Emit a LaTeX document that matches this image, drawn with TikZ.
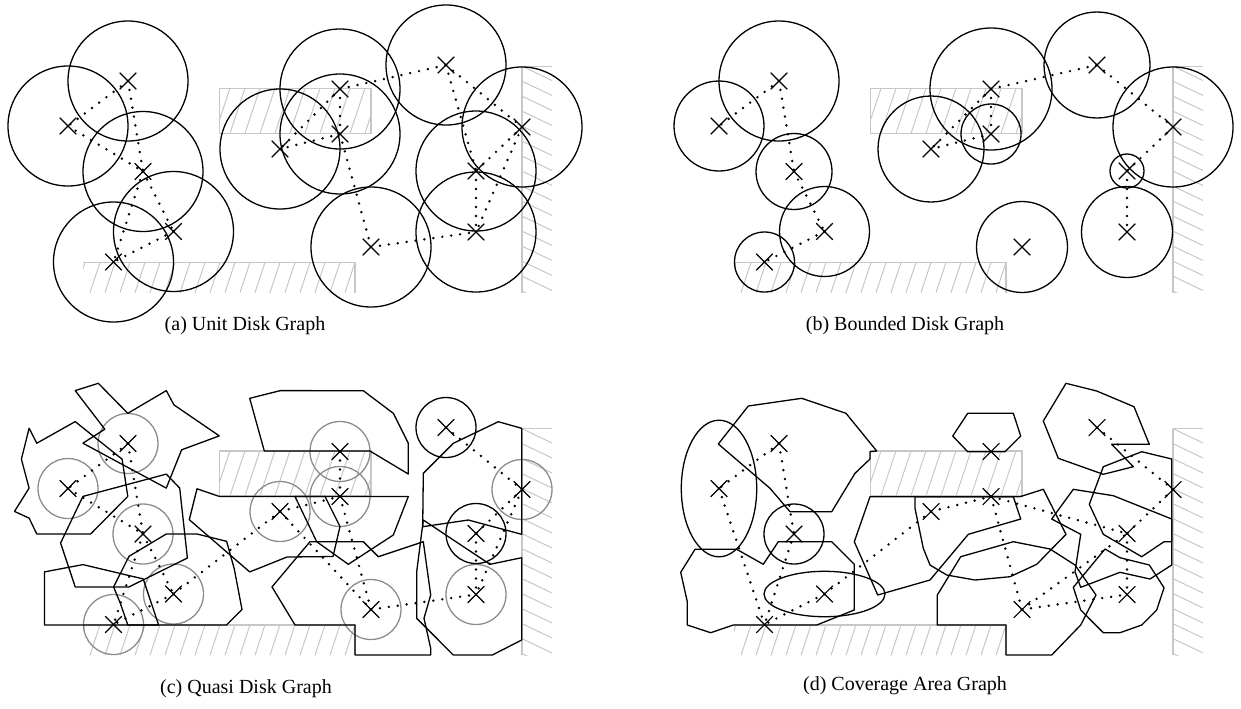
\documentclass[tikz,border=0pt]{standalone}
\usepackage{fontspec}
\setmainfont{Liberation Serif}
\usetikzlibrary{shapes.misc}

\begin{document}
\begin{tikzpicture}
  [
  x=0.5pt, y=-0.5pt, font=\normalsize,
  sensor/.style={cross out, draw=black, line width=0.55pt, minimum size=7.8pt, inner sep=0pt},
  link/.style={line width=1.35pt, line cap=round, dash pattern=on 0pt off 4.5pt},
  disk/.style={draw=black, line width=0.65pt},
  inner/.style={draw=black!45, line width=0.65pt},
  area/.style={draw=black, line width=0.65pt, line join=round},
  wall/.style={draw=black!22, line width=0.8pt},
  hatch/.style={draw=black!22, line width=0.5pt},
  caption/.style={inner sep=0pt}
  ]
\useasboundingbox (0,0) rectangle (1241,708);

% obstacles, the same in all four panels
\foreach \dx/\dy in {0/0,651/0,0/362.5,651/362.5} {
  \begin{scope}[shift={(\dx,\dy)}]
    \begin{scope}
      \clip (219.3,88.3) rectangle (370.7,133.3);
      \foreach \h in {200,215,...,380} \draw[hatch] (\h,133.3) -- ++(15,-45);
    \end{scope}
    \draw[wall] (219.3,88.3) rectangle (370.7,133.3);
    \begin{scope}
      \clip (83,262.3) rectangle (355,292.7);
      \foreach \h in {75,90,...,360} \draw[hatch] (\h,292.7) -- ++(10,-30.4);
    \end{scope}
    \draw[wall] (83,262.3) -- (355,262.3) -- (355,292.7);
    \begin{scope}
      \clip (521.7,66) rectangle (552,292.7);
      \foreach \v in {66,81,...,300} \draw[hatch] (521.7,\v) -- ++(30.3,14.5);
    \end{scope}
    \draw[hatch] (521.7,66) -- (552,66);
    \draw[wall] (521.7,66) -- (521.7,292.7);
  \end{scope}
}

% sensors, same positions in all panels
\foreach \p/\dx/\dy in {a/0/0,b/651/0,c/0/362.5,d/651/362.5} {
  \foreach \i/\px/\py in {1/128/81,2/68/126,3/143/171.5,4/173.5/231.5,5/113.5/262,6/340/89,7/340/134,8/280/149,9/371/247,10/446/65,11/522/127,12/476/171,13/476/232} {
    \node[sensor] (\p\i) at (\dx+\px,\py+\dy) {};
  }
}

% (a) unit disks
\foreach \i in {1,...,13} \draw[disk] (a\i.center) circle[radius=60];
\foreach \s/\t in {1/2,1/3,2/3,3/4,3/5,4/5,6/7,6/8,7/8,6/10,7/9,9/13,10/11,10/12,11/12,11/13,12/13}
  \draw[link] (a\s.center) -- (a\t.center);

% (b) bounded disks
\foreach \i/\r in {1/60,2/45,3/38,4/45,5/30,6/61,7/30,8/53,9/45.5,10/53,11/60,12/17,13/45.5}
  \draw[disk] (b\i.center) circle[radius=\r];
\foreach \s/\t in {1/2,1/3,3/4,4/5,6/7,6/8,7/8,6/10,10/11,11/12,12/13}
  \draw[link] (b\s.center) -- (b\t.center);

% (c) quasi disks
\foreach \i in {1,...,9,11,13} \draw[inner] (c\i.center) circle[radius=30];
\foreach \i in {10,12} \draw[disk] (c\i.center) circle[radius=30];
\begin{scope}[shift={(0,362.5)}]
\draw[area] (75.2,28.1) -- (98.3,20.8) -- (127.8,50.8) -- (166.3,28.1) -- (174,42.4) -- (219.3,73.4) -- (181.6,87.3) -- (166.3,125.6) -- (82.9,80.7) -- (104.8,66.7) -- cycle;
\draw[area] (29.1,65.7) -- (36.8,80.7) -- (75.2,59.1) -- (122.1,96.7) -- (127.8,133.9) -- (90.6,171.5) -- (36.8,171.5) -- (29.1,155.6) -- (14.5,148.9) -- (29.1,125.6) -- (21.4,96.7) -- cycle;
\draw[area] (82.9,133.9) -- (166.3,111.6) -- (179.7,125.6) -- (187.4,195.5) -- (129,224.4) -- (75.2,224.4) -- (60.6,180.5) -- cycle;
\draw[area] (113.6,224.4) -- (129,193.8) -- (166.3,171.5) -- (197,171.5) -- (226.6,178.8) -- (234.3,206.5) -- (242,247) -- (226.6,262.4) -- (127.8,262.4) -- (120.2,240.4) -- cycle;
\draw[area] (44.4,209.4) -- (82.9,202.1) -- (143.2,216.4) -- (158.6,262.4) -- (44.4,262.4) -- cycle;
\draw[area] (249.7,35.8) -- (280.4,28.1) -- (363.3,28.2) -- (393.3,50.8) -- (408.3,80.8) -- (408.3,111.5) -- (370,88.5) -- (264.3,88.5) -- cycle;
\draw[area] (295,134) -- (408.3,134) -- (393.3,172.5) -- (348.3,201.8) -- (316.7,179.2) -- cycle;
\draw[area] (197,126.3) -- (219.3,133.9) -- (325,134) -- (340,164) -- (333,194) -- (287,194.5) -- (249.7,209.4) -- (189.3,157.2) -- cycle;
\draw[area] (310,179.2) -- (363.3,179.2) -- (378.3,194.2) -- (423.3,179.2) -- (430.7,232.5) -- (424,255.8) -- (430.7,285.8) -- (430.7,292.5) -- (355,292.5) -- (355,262.4) -- (295,262.4) -- (272,224.4) -- cycle;
\draw[area] (423.3,110.8) -- (453.3,80.8) -- (498.3,59.2) -- (521.7,65.8) -- (521.7,171.8) -- (468.3,157.5) -- (422.7,164.2) -- cycle;
\draw[area] (423.3,157.5) -- (490,201.8) -- (521.7,195.2) -- (521.7,277.5) -- (492.3,292.5) -- (453.3,292.5) -- (416.7,255.8) -- (416.7,209.2) -- cycle;
\end{scope}
\foreach \s/\t in {1/2,1/3,2/3,3/4,3/5,4/5,4/8,8/7,8/9,6/7,7/9,9/13,10/11,11/12,11/13,12/13}
  \draw[link] (c\s.center) -- (c\t.center);

% (d) coverage areas
\draw[disk] (d2.center) ellipse[x radius=37.7, y radius=68.3];
\draw[disk] (d3.center) circle[radius=30];
\draw[disk] (d4.center) ellipse[x radius=60.5, y radius=22.7];
\begin{scope}[shift={(651,362.5)}]
\draw[area] (67.3,81.5) -- (97.3,43.5) -- (150.7,35.8) -- (195,50.8) -- (225.7,88.5) -- (219,89.2) -- (219,96.5) -- (204,110.8) -- (180.7,149.2) -- (139,149.2) -- (119,125.8) -- cycle;
\draw[area] (29.7,209.8) -- (44,186.8) -- (85.7,186.8) -- (112.3,201.8) -- (127.3,179.2) -- (180.7,179.2) -- (203.3,201.8) -- (203.3,247.5) -- (165.7,262.5) -- (82.3,262.5) -- (59.7,270.2) -- (36.3,262.5) -- (36.3,239.2) -- cycle;
\draw[area] (301.7,73.5) -- (316.7,50.8) -- (362.3,50.8) -- (369.7,73.5) -- (354,89.2) -- (316.7,89.2) -- cycle;
\draw[area] (264,134.2) -- (264,145.8) -- (272.3,185.8) -- (279,202.5) -- (295.7,212.5) -- (324,217.5) -- (359,214.2) -- (385.7,201.8) -- (415,171.8) -- (392.3,126.8) -- (369,134.2) -- cycle;
\draw[area] (219,134.2) -- (362.3,134.2) -- (369.7,156.5) -- (317.3,171.8) -- (279,217.5) -- (226.7,232.5) -- (203.3,179.2) -- cycle;
\draw[area] (286.3,232.5) -- (309.7,194.2) -- (362.3,179.2) -- (399,186.5) -- (424,202.5) -- (445,232.5) -- (429.7,262.5) -- (400.7,292.5) -- (355,292.5) -- (355,262.5) -- (286.3,262.5) -- cycle;
\draw[area] (415,20.8) -- (445.7,28.5) -- (483,44.2) -- (498.3,81.8) -- (460.7,81.8) -- (482.3,104.2) -- (452.3,111.8) -- (407.3,95.8) -- (392.3,58.5) -- cycle;
\draw[area] (452.3,104.2) -- (490.7,89.2) -- (520.7,96.5) -- (520.7,179.2) -- (513,179.2) -- (490.7,194.2) -- (452.3,171.8) -- (438.3,141.8) -- cycle;
\draw[area] (422.3,126.8) -- (462.3,133.2) -- (520.7,156.5) -- (520.7,202.5) -- (499,216.5) -- (469,209.8) -- (429.7,224.8) -- (424,209.2) -- (429.7,171.8) -- (400.7,156.5) -- cycle;
\draw[area] (422.3,224.8) -- (454,186.5) -- (469,195.2) -- (498.3,202.5) -- (513,225.2) -- (505.7,247.5) -- (490.7,262.5) -- (469,270.2) -- (452.3,270.2) -- (429.7,247.5) -- cycle;
\end{scope}
\foreach \s/\t in {1/2,1/3,2/5,3/5,4/5,4/8,8/7,7/9,7/12,9/12,9/13,10/11,11/12,12/13}
  \draw[link] (d\s.center) -- (d\t.center);

% captions
\node[caption] (capa) at (245,326) {(a) Unit Disk Graph};
\node[caption] (capb) at (905,326) {(b) Bounded Disk Graph};
\node[caption] (capc) at (246,689) {(c) Quasi Disk Graph};
\node[caption] (capd) at (905,686) {(d) Coverage Area Graph};
\end{tikzpicture}
\end{document}
